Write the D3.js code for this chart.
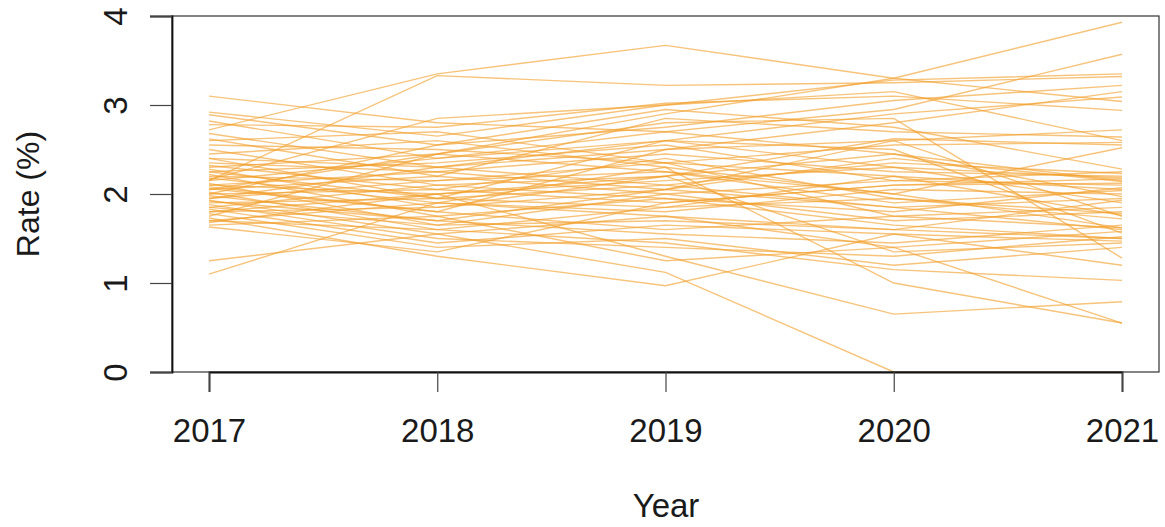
<!DOCTYPE html>
<html>
<head>
<meta charset="utf-8">
<script src="https://cdn.jsdelivr.net/npm/d3@7"></script>
<style>
  html, body { margin: 0; padding: 0; background: #fff; }
  svg { display: block; }
  text { font-family: "Liberation Sans", Arial, Helvetica, sans-serif; fill: #1a1a1a; }
</style>
</head>
<body>
<svg id="chart" width="1165" height="527"></svg>
<script>
const years = [2017, 2018, 2019, 2020, 2021];
const yTicks = [0, 1, 2, 3, 4];
const xLabel = "Year";
const yLabel = "Rate (%)";

// Each series: rate at 2017..2021
const s01 = [2.30, 2.45, 2.90, 3.30, 3.93];
const s02 = [2.72, 3.35, 3.67, 3.30, 3.04];
const s03 = [2.15, 3.33, 3.22, 3.25, 3.32];
const s04 = [3.10, 2.80, 2.70, 2.95, 3.57];
const s05 = [2.92, 2.65, 3.00, 3.28, 3.35];
const s06 = [2.89, 2.55, 2.75, 3.05, 3.22];
const s07 = [2.82, 2.40, 2.60, 2.90, 3.09];
const s08 = [2.78, 2.75, 3.02, 3.10, 2.94];
const s09 = [2.68, 2.30, 2.50, 2.60, 2.72];
const s10 = [2.62, 2.20, 2.85, 2.70, 2.64];
const s11 = [2.55, 2.50, 2.35, 2.55, 2.58];
const s12 = [2.50, 2.10, 2.20, 2.62, 2.55];
const s13 = [2.45, 2.60, 2.30, 2.00, 2.52];
const s14 = [2.40, 1.95, 2.10, 2.35, 2.23];
const s15 = [2.35, 2.25, 2.45, 2.25, 2.20];
const s16 = [2.32, 2.05, 1.90, 2.10, 2.17];
const s17 = [2.28, 1.85, 2.05, 2.40, 2.14];
const s18 = [2.25, 2.35, 2.55, 2.15, 2.10];
const s19 = [2.22, 1.75, 1.95, 1.80, 2.07];
const s20 = [2.20, 2.15, 2.25, 1.90, 2.04];
const s21 = [2.18, 1.90, 1.80, 2.05, 2.00];
const s22 = [2.15, 2.40, 2.70, 2.45, 1.97];
const s23 = [2.12, 1.65, 1.70, 1.60, 1.93];
const s24 = [2.10, 2.00, 2.15, 2.30, 1.90];
const s25 = [2.08, 1.80, 1.60, 1.75, 1.85];
const s26 = [2.05, 2.20, 2.00, 1.70, 1.80];
const s27 = [2.02, 1.60, 1.85, 2.20, 1.76];
const s28 = [2.00, 2.05, 2.40, 1.95, 1.72];
const s29 = [1.98, 1.70, 1.55, 1.45, 1.65];
const s30 = [1.95, 2.30, 2.10, 1.85, 1.60];
const s31 = [1.93, 1.55, 1.75, 1.40, 1.58];
const s32 = [1.90, 1.95, 2.60, 2.50, 1.56];
const s33 = [1.88, 1.50, 1.40, 1.30, 1.52];
const s34 = [1.85, 2.10, 1.95, 1.65, 1.50];
const s35 = [1.83, 1.45, 1.65, 1.55, 1.47];
const s36 = [1.80, 1.85, 2.20, 1.35, 1.45];
const s37 = [1.78, 1.40, 1.50, 1.20, 1.40];
const s38 = [1.75, 2.45, 2.80, 2.85, 1.28];
const s39 = [1.73, 1.30, 0.97, 1.55, 1.20];
const s40 = [1.70, 1.60, 1.45, 1.15, 1.03];
const s41 = [1.68, 2.00, 1.30, 0.65, 0.79];
const s42 = [1.65, 1.75, 1.25, 1.40, 0.55];
const s43 = [1.25, 1.55, 1.12, 0.00, 0.00];
const s44 = [1.10, 1.90, 2.30, 1.00, 0.55];
const s45 = [1.63, 1.35, 1.90, 2.10, 2.12];
const s46 = [2.60, 2.70, 2.35, 1.75, 1.62];
const s47 = [2.00, 2.55, 2.95, 2.75, 2.28];
const s48 = [1.92, 1.70, 2.05, 2.60, 1.75];
const s49 = [2.16, 2.85, 3.00, 3.15, 2.60];
const s50 = [2.06, 1.80, 2.50, 2.80, 3.15];
const s51 = [1.95, 2.15, 2.35, 2.20, 2.05];
const s52 = [2.10, 2.25, 2.05, 1.85, 1.95];
const s53 = [1.80, 2.00, 2.20, 2.45, 2.15];
const s54 = [2.25, 1.95, 1.85, 1.95, 1.78];
const s55 = [1.70, 1.90, 1.75, 1.60, 1.50];
const s56 = [2.40, 2.30, 2.60, 2.30, 2.18];
const s57 = [2.05, 2.45, 2.25, 2.00, 1.62];
const s58 = [1.85, 1.65, 2.00, 2.15, 2.25];

const series = [s01,s02,s03,s04,s05,s06,s07,s08,s09,s10,s11,s12,s13,s14,s15,s16,s17,s18,s19,s20,
                s21,s22,s23,s24,s25,s26,s27,s28,s29,s30,s31,s32,s33,s34,s35,s36,s37,s38,s39,s40,
                s41,s42,s43,s44,s45,s46,s47,s48,s49,s50,s51,s52,s53,s54,s55,s56,s57,s58];

const svg = d3.select("#chart");
const plot = { left: 172, right: 1159, top: 16, bottom: 372 };

const x = d3.scaleLinear().domain([2017, 2021]).range([209, 1122]);
const y = d3.scaleLinear().domain([0, 4]).range([plot.bottom, plot.top]);

// lines
const line = d3.line().x((d, i) => x(years[i])).y(d => y(d));
svg.append("g")
  .selectAll("path")
  .data(series)
  .join("path")
  .attr("d", line)
  .attr("fill", "none")
  .attr("stroke", "rgb(242,158,40)")
  .attr("stroke-opacity", 0.62)
  .attr("stroke-width", 1.4);

// box
svg.append("rect")
  .attr("x", plot.left).attr("y", plot.top)
  .attr("width", plot.right - plot.left).attr("height", plot.bottom - plot.top)
  .attr("fill", "none").attr("stroke", "#333").attr("stroke-width", 1.2);

// y axis
const yAxis = d3.axisLeft(y).tickValues(yTicks).tickSize(22).tickPadding(0).tickFormat(d3.format("d"));
const gy = svg.append("g").attr("transform", `translate(${plot.left},0)`).call(yAxis);
gy.select(".domain").attr("stroke", "#111").attr("stroke-width", 1.8);
gy.selectAll(".tick line").attr("stroke", "#444").attr("stroke-width", 1.2);
gy.selectAll(".tick text")
  .attr("x", 0).attr("dy", null)
  .attr("transform", "translate(-57,0) rotate(-90)")
  .attr("text-anchor", "middle")
  .attr("dominant-baseline", "central")
  .style("font-size", "33px").style("font-family", "'Liberation Sans', Arial, sans-serif").attr("fill", "#1a1a1a");

// x axis
const xAxis = d3.axisBottom(x).tickValues(years).tickSize(20).tickPadding(0).tickFormat(d3.format("d"));
const gx = svg.append("g").attr("transform", `translate(0,${plot.bottom})`).call(xAxis);
gx.select(".domain").attr("stroke", "#111").attr("stroke-width", 1.8);
gx.selectAll(".tick line").attr("stroke", "#444").attr("stroke-width", 1.2);
gx.selectAll(".tick text")
  .attr("y", 58).attr("dy", null)
  .attr("dominant-baseline", "central")
  .style("font-size", "33px").style("font-family", "'Liberation Sans', Arial, sans-serif").attr("fill", "#1a1a1a");

// axis titles
svg.append("text")
  .attr("x", 666).attr("y", 517)
  .attr("text-anchor", "middle")
  .style("font-size", "33px")
  .text(xLabel);
svg.append("text")
  .attr("transform", `translate(28,${(plot.top + plot.bottom) / 2}) rotate(-90)`)
  .attr("text-anchor", "middle")
  .attr("dominant-baseline", "central")
  .style("font-size", "32px")
  .text(yLabel);
</script>
</body>
</html>
